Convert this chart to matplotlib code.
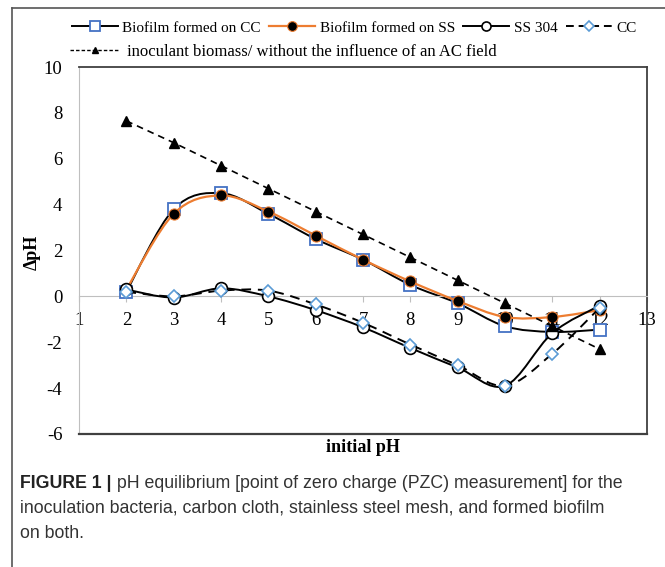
import numpy as np
import matplotlib
matplotlib.use("Agg")
import matplotlib.pyplot as plt
from matplotlib.path import Path
from matplotlib.patches import PathPatch
from matplotlib.lines import Line2D

# --------- data ---------
initial_ph = [2, 3, 4, 5, 6, 7, 8, 9, 10, 11, 12]
biofilm_cc = [0.2, 3.8, 4.5, 3.6, 2.5, 1.6, 0.5, -0.3, -1.3, -1.55, -1.45]
biofilm_ss = [0.3, 3.6, 4.4, 3.7, 2.65, 1.6, 0.65, -0.2, -0.9, -0.9, -0.6]
ss_304 = [0.3, -0.05, 0.35, 0.0, -0.6, -1.35, -2.25, -3.1, -3.9, -1.6, -0.4]
cc = [0.2, 0.0, 0.25, 0.25, -0.35, -1.15, -2.1, -3.0, -3.9, -2.5, -0.5]
inoculant = [7.65, 6.7, 5.7, 4.7, 3.7, 2.7, 1.7, 0.7, -0.3, -1.3, -2.3]

x_ticks = list(range(1, 14))
y_ticks = [-6, -4, -2, 0, 2, 4, 6, 8, 10]

legend_row1 = ["Biofilm formed on CC", "Biofilm formed on SS", "SS 304", "CC"]
legend_row2 = "inoculant biomass/ without the influence of an AC field"

caption_bold = "FIGURE 1 |"
caption_lines = [
    " pH equilibrium [point of zero charge (PZC) measurement] for the",
    "inoculation bacteria, carbon cloth, stainless steel mesh, and formed biofilm",
    "on both.",
]

SERIF = ["Liberation Serif", "DejaVu Serif"]
SANS = ["Liberation Sans", "DejaVu Sans"]
BLUE = "#4472C4"
ORANGE = "#ED7D31"
DARK = "#404040"
GREY = "#BFBFBF"

plt.rcParams["font.family"] = SERIF
plt.rcParams["axes.unicode_minus"] = False


def smooth_path(xs, ys):
    # Excel-like smoothed line: Catmull-Rom segments as cubic Bezier curves
    pts = np.column_stack([xs, ys]).astype(float)
    ext = np.vstack([pts[0], pts, pts[-1]])
    verts = [pts[0]]
    codes = [Path.MOVETO]
    for i in range(len(pts) - 1):
        p0, p1, p2, p3 = ext[i], ext[i + 1], ext[i + 2], ext[i + 3]
        verts += [p1 + (p2 - p0) / 6, p2 - (p3 - p1) / 6, p2]
        codes += [Path.CURVE4] * 3
    return Path(verts, codes)


def draw_smooth(axis, xs, ys, color, ls="-", lw=1.4, z=2):
    patch = PathPatch(smooth_path(xs, ys), fill=False, edgecolor=color,
                      linewidth=lw, linestyle=ls, zorder=z, capstyle="butt")
    axis.add_patch(patch)


fig = plt.figure(figsize=(6.65, 5.67), dpi=100)
ax = fig.add_axes([79 / 665, 1 - 434 / 567, (647 - 79) / 665, (434 - 67) / 567])

# series
draw_smooth(ax, initial_ph, biofilm_cc, "black", z=2)
ax.plot(initial_ph, biofilm_cc, ls="none", marker="s", ms=8, mfc="white",
        mec=BLUE, mew=1.3, zorder=3)

draw_smooth(ax, initial_ph, biofilm_ss, ORANGE, lw=1.6, z=4)
ax.plot(initial_ph, biofilm_ss, ls="none", marker="o", ms=8, mfc="black",
        mec=ORANGE, mew=0.8, zorder=5)

draw_smooth(ax, initial_ph, ss_304, "black", z=6)
ax.plot(initial_ph, ss_304, ls="none", marker="o", ms=8.5, mfc="white",
        mec="black", mew=1.2, zorder=7)

draw_smooth(ax, initial_ph, cc, "black", ls=(0, (5, 3.5)), z=6)
ax.plot(initial_ph, cc, ls="none", marker="D", ms=6, mfc="white",
        mec="#5B9BD5", mew=1.2, zorder=8)

ax.plot(initial_ph, inoculant, color="black", lw=1.2, ls=(0, (4, 3)),
        marker="^", ms=7, mfc="black", mec="black", zorder=9)

# axes
ax.set_xlim(1, 13)
ax.set_ylim(-6, 10)
ax.set_xticks(x_ticks)
ax.set_yticks(y_ticks)
ax.spines["bottom"].set_position(("data", 0))
ax.spines["bottom"].set_color(GREY)
ax.spines["left"].set_color(GREY)
for s in ("top", "right"):
    ax.spines[s].set_color(DARK)
    ax.spines[s].set_linewidth(1.3)
ax.plot([0, 1], [0, 0], transform=ax.transAxes, color=DARK, lw=1.6,
        clip_on=False, zorder=10)
ax.tick_params(axis="x", direction="out", length=4, color=GREY, pad=7,
               labelsize=13.5)
ax.tick_params(axis="y", length=0, pad=12, labelsize=13.5)

fig.text(363 / 665, 1 - 448 / 567, "initial pH", ha="center", va="center",
         fontweight="bold", fontsize=13)
fig.text(32 / 665, 1 - 252 / 567, "ΔpH", ha="center", va="center",
         rotation=90, fontweight="bold", fontsize=13)

# legend
handles1 = [
    Line2D([], [], color="black", lw=1.4, marker="s", ms=7, mfc="white", mec=BLUE, mew=1.3),
    Line2D([], [], color=ORANGE, lw=1.6, marker="o", ms=7, mfc="black", mec=ORANGE, mew=0.8),
    Line2D([], [], color="black", lw=1.4, marker="o", ms=6.5, mfc="white", mec="black", mew=1.2),
    Line2D([], [], color="black", lw=1.4, ls=(0, (4, 2.5)), marker="D", ms=5, mfc="white",
           mec="#5B9BD5", mew=1.2),
]
fig.legend(handles1, legend_row1, loc="center left",
           bbox_to_anchor=(72 / 665, 1 - 28 / 567), ncol=4, frameon=False,
           prop={"size": 11}, handlelength=3.0,
           handletextpad=0.3, columnspacing=0.55, borderpad=0, borderaxespad=0)
handles2 = [Line2D([], [], color="black", lw=1.0, ls=(0, (2.5, 1.5)), marker="^", ms=5,
                   mfc="black", mec="black")]
fig.legend(handles2, [legend_row2], loc="center left",
           bbox_to_anchor=(70 / 665, 1 - 52 / 567), frameon=False,
           prop={"size": 12}, handlelength=3.0,
           handletextpad=0.4, borderpad=0, borderaxespad=0)

# outer frame (top and left only)
fig.add_artist(Line2D([12 / 665, 12 / 665], [0, 1 - 8 / 567], color="#555555", lw=1.2))
fig.add_artist(Line2D([12 / 665, 1], [1 - 8 / 567, 1 - 8 / 567], color="#555555", lw=1.2))

# caption
t0 = fig.text(20 / 665, 1 - 483 / 567, caption_bold, ha="left", va="center",
              fontfamily=SANS, fontweight="bold", fontsize=12.8, color="#222222")
fig.canvas.draw()
r = fig.canvas.get_renderer()
bb = t0.get_window_extent(r)
fig.text(bb.x1 / fig.bbox.width, 1 - 483 / 567, caption_lines[0], ha="left",
         va="center", fontfamily=SANS, fontsize=12.8, color="#333333")
for i, line in enumerate(caption_lines[1:]):
    fig.text(20 / 665, 1 - (508 + 25 * i) / 567, line, ha="left", va="center",
             fontfamily=SANS, fontsize=12.8, color="#333333")

fig.savefig("out.png", dpi=100)
